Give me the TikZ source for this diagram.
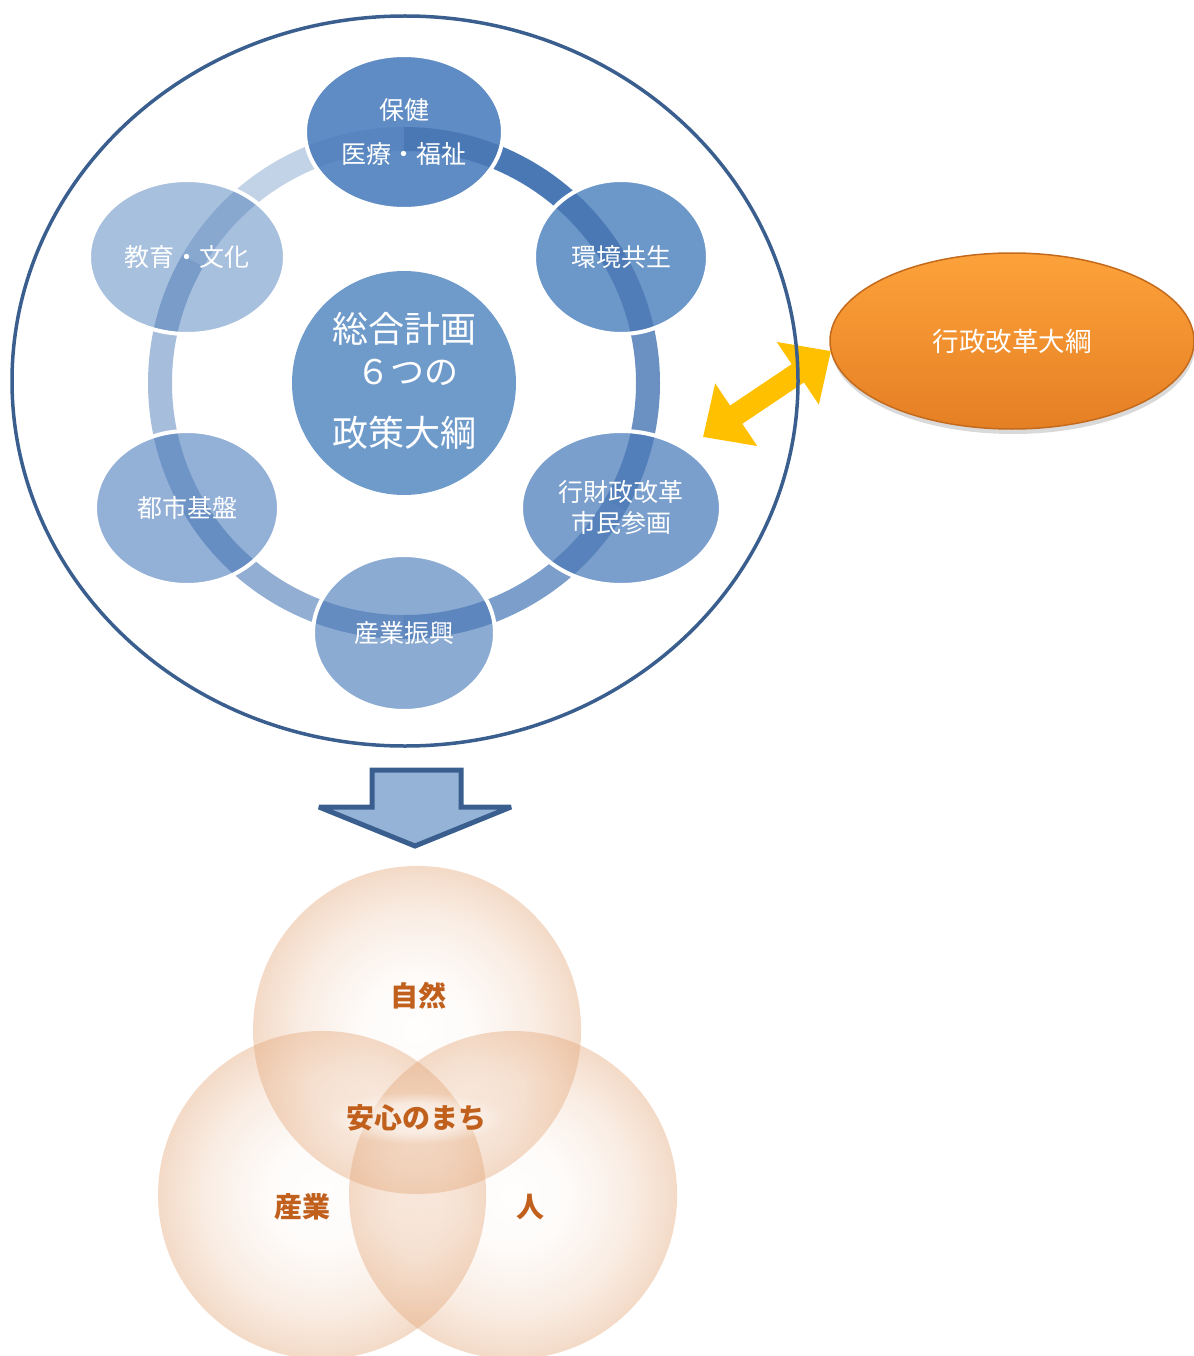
\documentclass[tikz,border=0pt]{standalone}
\usepackage{fontspec}
\setmainfont{Noto Sans CJK JP}
\usetikzlibrary{shapes.geometric,arrows.meta,shadows,fadings}
\definecolor{outerblue}{HTML}{3A5F8F}
\definecolor{ringblue}{HTML}{4A78B5}
\definecolor{cblue}{HTML}{6F9BCB}
\definecolor{eA}{HTML}{5F8CC4}
\definecolor{eB}{HTML}{6C97C9}
\definecolor{eC}{HTML}{7A9FCD}
\definecolor{eD}{HTML}{8BABD3}
\definecolor{eE}{HTML}{93B0D7}
\definecolor{eF}{HTML}{A7C0DE}
\definecolor{arrowfill}{HTML}{95B3D7}
\definecolor{yellowarrow}{HTML}{FFC000}
\definecolor{orangetop}{HTML}{FDA23A}
\definecolor{orangebot}{HTML}{E57F24}
\definecolor{orangerim}{HTML}{C46A1C}
\definecolor{venedge}{HTML}{E2A272}
\definecolor{ventext}{HTML}{C0601C}
\pgfdeclareradialshading{vennfadeshade}{\pgfpoint{0bp}{0bp}}{color(0bp)=(pgftransparent!99); color(8bp)=(pgftransparent!96); color(18bp)=(pgftransparent!80); color(25bp)=(pgftransparent!60); color(50bp)=(pgftransparent!60)}
\pgfdeclarefading{vennfade}{\pgfuseshading{vennfadeshade}}
\pgfdeclareradialshading{glowfadeshade}{\pgfpoint{0bp}{0bp}}{color(0bp)=(pgftransparent!30); color(14bp)=(pgftransparent!45); color(25bp)=(pgftransparent!100); color(50bp)=(pgftransparent!100)}
\pgfdeclarefading{glowfade}{\pgfuseshading{glowfadeshade}}
\tikzset{
  petal/.style={ellipse, draw=white, line width=4, inner sep=0pt, text=white, align=center},
  petaltext/.style={font=\fontsize{25}{44}\selectfont},
  centertext/.style={text=white, font=\fontsize{36}{40}\selectfont, inner sep=0pt},
  venncircle/.style={fill=venedge, path fading=vennfade},
  venlabel/.style={text=ventext, font=\bfseries\fontsize{28}{30}\selectfont, inner sep=0pt},
}
\begin{document}
\begin{tikzpicture}[x=1pt,y=-1pt]
\useasboundingbox (0,0) rectangle (1193,1356);

% petal fills
\fill[eA] (404,132) ellipse [x radius=99, y radius=77];
\fill[eB] (621,257) ellipse [x radius=87, y radius=77];
\fill[eC] (621,508) ellipse [x radius=100, y radius=77];
\fill[eD] (404,633) ellipse [x radius=91, y radius=78];
\fill[eE] (187,508) ellipse [x radius=92, y radius=77];
\fill[eF] (187,257) ellipse [x radius=98, y radius=77];

% ring segments
\foreach \s/\op in {270/1.0,330/0.82,390/0.72,450/0.6,510/0.49,570/0.33}{
  \draw[ringblue, line width=24, opacity=\op] ([shift={(\s:244)}]404,383) arc[start angle=\s, end angle=\s+60, radius=244];
}

% petal outlines and text
\node[petal, petaltext, minimum width=198, minimum height=154] (hoken) at (404,132) {保健\\医療・福祉};
\node[petal, petaltext, minimum width=174, minimum height=154] (kankyo) at (621,257) {環境共生};
\node[petal, font=\fontsize{25}{31}\selectfont, minimum width=200, minimum height=154] (gyozai) at (621,508) {行財政改革\\市民参画};
\node[petal, petaltext, minimum width=182, minimum height=156] (sangyo) at (404,633) {産業振興};
\node[petal, petaltext, minimum width=184, minimum height=154] (toshi) at (187,508) {都市基盤};
\node[petal, petaltext, minimum width=196, minimum height=154] (kyoiku) at (187,257) {教育・文化};

% center circle
\node[circle, fill=cblue, minimum size=224, inner sep=0pt] (center) at (404,383) {};
\node[centertext] (c1) at (404,329) {総合計画};
\node[centertext, font=\fontsize{34}{38}\selectfont] (c2) at (407,372) {６つの};
\node[centertext] (c3) at (404,433) {政策大綱};

% orange ellipse
\node[ellipse, minimum width=364, minimum height=176, inner sep=0pt,
      top color=orangetop, bottom color=orangebot, draw=orangerim, line width=1.5,
      drop shadow={opacity=0.3, shadow xshift=1pt, shadow yshift=-5pt},
      text=white, font=\fontsize{26.5}{30}\selectfont] (gyosei) at (1012,341) {行政改革大綱};

% yellow double arrow
\coordinate (ya) at (703,437);
\coordinate (yb) at (831,351);
\draw[yellowarrow, line width=22, {Triangle[width=73pt,length=40pt]}-{Triangle[width=73pt,length=40pt]}] (ya) -- (yb);

% outer ellipse
\node[ellipse, draw=outerblue, line width=3.5, minimum width=786, minimum height=730, inner sep=0pt] (outer) at (405,381) {};

% down block arrow
\draw[fill=arrowfill, draw=outerblue, line width=5, line join=miter, miter limit=4]
  (372,770) -- (461,770) -- (461,807) -- (511,807) -- (415,846) -- (319,807) -- (372,807) -- cycle;

% Venn circles
\fill[venncircle] (322,1195) circle (164);
\fill[venncircle] (513,1195) circle (164);
\fill[venncircle] (417,1030) circle (164);

\fill[white, path fading=glowfade] (416,1118) ellipse [x radius=88, y radius=26];

\node[venlabel] (shizen) at (418,996) {自然};
\node[venlabel] (anshin) at (416,1118) {安心のまち};
\node[venlabel] (sangyo2) at (302,1207) {産業};
\node[venlabel] (hito) at (530,1207) {人};
\end{tikzpicture}
\end{document}
